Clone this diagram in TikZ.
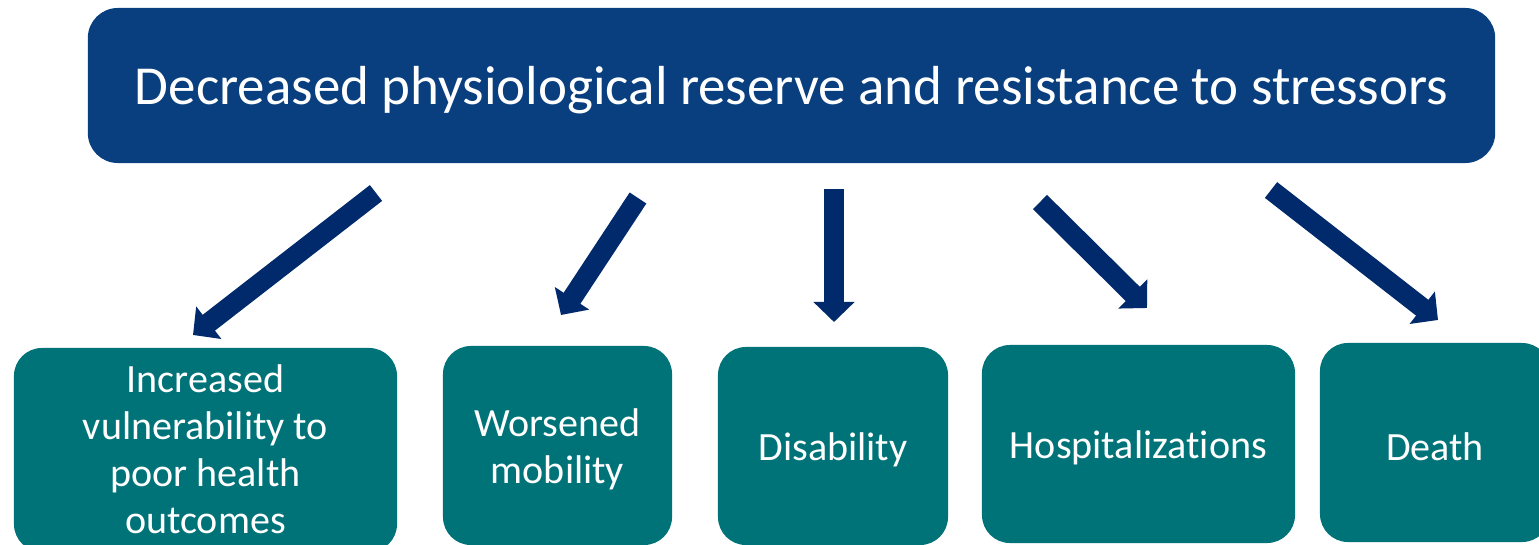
\documentclass[tikz,border=0pt]{standalone}
\usepackage{fontspec}
\setmainfont{Carlito}[Ligatures=NoCommon]
\usetikzlibrary{arrows.meta}
\definecolor{HeadBlue}{RGB}{9,63,127}
\definecolor{ArrowBlue}{RGB}{0,42,108}
\definecolor{BoxTeal}{RGB}{0,115,120}
\tikzset{
  headbox/.style={fill=HeadBlue,rounded corners=0.75cm,
    minimum width=35.175cm,minimum height=3.875cm},
  headtext/.style={text=white,yshift=-0.11cm,font=\fontsize{39.1}{47}\selectfont},
  outbox/.style={fill=BoxTeal,rounded corners=0.7cm},
  outtext/.style={text=white,align=center,yshift=-0.1cm,
    font=\fontsize{28.5}{33.4}\selectfont},
  blockarrow/.style={draw=ArrowBlue,line width=0.5cm,
    -{Triangle[length=0.5cm,width=1cm]}},
}

\begin{document}
\begin{tikzpicture}[x=0.025cm,y=-0.025cm]
    \useasboundingbox (0,0) rectangle (1539,545);
    \clip (0,0) rectangle (1539,545);
    \node[headbox,label={[headtext]center:Decreased physiological reserve and resistance to stressors}]
        (reserve) at (791.5,85.5) {};
    % outcome boxes along the bottom
    \node[outbox,minimum width=9.575cm,minimum height=5.1cm,
        label={[outtext,yshift=0.12cm]center:Increased\\vulnerability to\\poor health\\outcomes}]
        (vuln) at (205.5,450) {};
    \node[outbox,minimum width=5.725cm,minimum height=4.975cm,
        label={[outtext]center:Worsened\\mobility}]
        (mobility) at (557.5,445.5) {};
    \node[outbox,minimum width=5.75cm,minimum height=4.95cm,
        label={[outtext]center:Disability}]
        (disab) at (833,446) {};
    \node[outbox,minimum width=7.825cm,minimum height=4.95cm,
        label={[outtext]center:Hospitalizations}]
        (hosp) at (1138.5,444) {};
    \node[outbox,minimum width=5.75cm,minimum height=4.975cm,
        label={[outtext]center:Death}]
        (death) at (1435,442.5) {};
    % arrow tails and tips
    \coordinate (t1) at (376,193);  \coordinate (h1) at (193,335);
    \coordinate (t2) at (638,198);  \coordinate (h2) at (561,315);
    \coordinate (t3) at (834,189);  \coordinate (h3) at (834,322);
    \coordinate (t4) at (1040,202); \coordinate (h4) at (1147,308);
    \coordinate (t5) at (1271,190); \coordinate (h5) at (1438,320);
    \draw[blockarrow] (t1) -- (h1);
    \draw[blockarrow] (t2) -- (h2);
    \draw[blockarrow] (t3) -- (h3);
    \draw[blockarrow] (t4) -- (h4);
    \draw[blockarrow] (t5) -- (h5);
\end{tikzpicture}
\end{document}
